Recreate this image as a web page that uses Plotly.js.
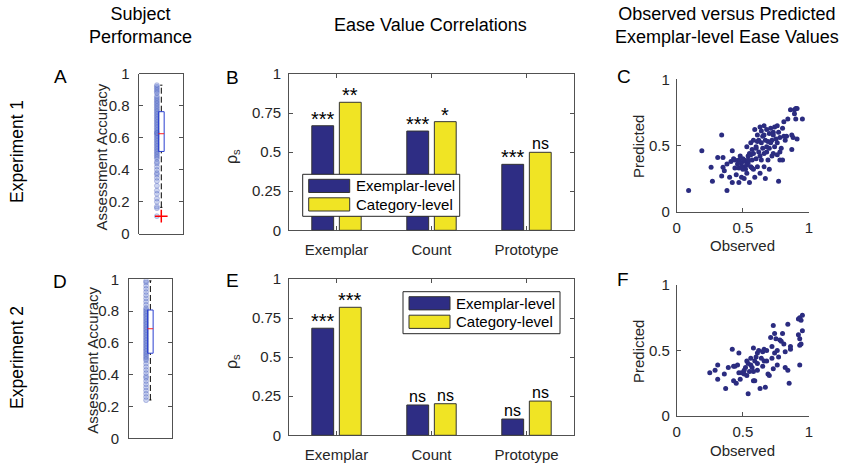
<!DOCTYPE html>
<html><head><meta charset="utf-8">
<script src="https://cdn.plot.ly/plotly-3.0.1.min.js"></script>
<style>html,body{margin:0;padding:0;background:#fff}#chart{width:844px;height:465px}</style>
</head><body><div id="chart"></div>
<script>
// ---------------- DATA ----------------
const categories = ['Exemplar', 'Count', 'Prototype'];
const seriesNames = ['Exemplar-level', 'Category-level'];
const exp1Exemplar = [0.669, 0.635, 0.422];
const exp1Category = [0.819, 0.695, 0.499];
const exp1ExemplarSig = ['***', '***', '***'];
const exp1CategorySig = ['**', '*', 'ns'];
const exp2Exemplar = [0.685, 0.194, 0.104];
const exp2Category = [0.819, 0.202, 0.219];
const exp2ExemplarSig = ['***', 'ns', 'ns'];
const exp2CategorySig = ['***', 'ns', 'ns'];
const barTicks = [0, 0.25, 0.5, 0.75, 1];
const barTickLabels = ['0', '0.25', '0.5', '0.75', '1'];

// subject assessment accuracy (boxplots)
const accuracyExp1 = [0.11, 0.16, 0.17, 0.2, 0.22, 0.25, 0.27, 0.3, 0.33, 0.35, 0.37, 0.38, 0.4, 0.42, 0.44, 0.45,
  0.47, 0.48, 0.49, 0.5, 0.51, 0.52, 0.53, 0.54, 0.55, 0.56, 0.57, 0.58, 0.59, 0.6, 0.61, 0.62, 0.63, 0.63, 0.64,
  0.65, 0.66, 0.67, 0.68, 0.69, 0.7, 0.71, 0.72, 0.73, 0.74, 0.75, 0.76, 0.77, 0.78, 0.79, 0.8, 0.81, 0.82, 0.83,
  0.84, 0.85, 0.86, 0.88, 0.89, 0.9, 0.91, 0.92, 0.93];
const boxStatsExp1 = [0.165, 0.515, 0.626, 0.764, 0.93]; // lower whisker, Q1, median, Q3, upper whisker
const outliersExp1 = [0.11];
const accuracyExp2 = [0.24, 0.26, 0.28, 0.3, 0.32, 0.34, 0.36, 0.38, 0.39, 0.41, 0.43, 0.45, 0.47, 0.49, 0.5, 0.51,
  0.52, 0.53, 0.54, 0.55, 0.56, 0.57, 0.58, 0.59, 0.6, 0.61, 0.62, 0.63, 0.64, 0.65, 0.66, 0.67, 0.68, 0.69, 0.7,
  0.71, 0.72, 0.73, 0.74, 0.75, 0.76, 0.77, 0.78, 0.79, 0.8, 0.81, 0.82, 0.84, 0.86, 0.88, 0.9, 0.92, 0.94, 0.96,
  0.98, 0.99];
const boxStatsExp2 = [0.241, 0.535, 0.689, 0.807, 0.99];
const outliersExp2 = [];
const accuracyTicks = [0, 0.2, 0.4, 0.6, 0.8, 1];

// observed vs predicted exemplar-level ease values
const observedExp1 = [0.09, 0.19, 0.26, 0.27, 0.31, 0.34, 0.34, 0.35, 0.35, 0.36, 0.38, 0.38, 0.40, 0.41, 0.42, 0.42,
  0.43, 0.44, 0.45, 0.47, 0.47, 0.47, 0.48, 0.49, 0.49, 0.50, 0.51, 0.51, 0.52, 0.52, 0.53, 0.54, 0.54, 0.55, 0.55,
  0.56, 0.56, 0.57, 0.57, 0.58, 0.58, 0.59, 0.59, 0.60, 0.60, 0.61, 0.61, 0.62, 0.62, 0.63, 0.63, 0.64, 0.64, 0.65,
  0.65, 0.66, 0.66, 0.67, 0.67, 0.68, 0.68, 0.69, 0.69, 0.70, 0.70, 0.71, 0.72, 0.73, 0.73, 0.74, 0.74, 0.75, 0.76,
  0.76, 0.77, 0.78, 0.78, 0.79, 0.80, 0.81, 0.81, 0.82, 0.83, 0.84, 0.86, 0.87, 0.87, 0.88, 0.89, 0.89, 0.90, 0.91,
  0.91, 0.95, 0.90, 0.49, 0.50, 0.51, 0.53, 0.53, 0.54, 0.56, 0.57, 0.44, 0.46, 0.64, 0.63, 0.70, 0.72, 0.76, 0.78,
  0.80, 0.77, 0.60, 0.61, 0.58, 0.66, 0.68, 0.66, 0.71, 0.73];
const predictedExp1 = [0.16, 0.46, 0.335, 0.23, 0.41, 0.58, 0.27, 0.41, 0.335, 0.31, 0.16, 0.36, 0.26, 0.38, 0.46, 0.22,
  0.40, 0.33, 0.28, 0.22, 0.39, 0.33, 0.42, 0.26, 0.37, 0.40, 0.34, 0.25, 0.38, 0.32, 0.49, 0.42, 0.37, 0.22, 0.44,
  0.34, 0.52, 0.39, 0.47, 0.54, 0.32, 0.26, 0.62, 0.40, 0.49, 0.58, 0.34, 0.45, 0.54, 0.64, 0.42, 0.52, 0.61, 0.48,
  0.57, 0.34, 0.65, 0.25, 0.54, 0.45, 0.62, 0.39, 0.53, 0.48, 0.59, 0.63, 0.54, 0.44, 0.60, 0.49, 0.64, 0.55, 0.52,
  0.65, 0.23, 0.39, 0.56, 0.48, 0.39, 0.57, 0.68, 0.54, 0.57, 0.70, 0.77, 0.47, 0.58, 0.56, 0.77, 0.74, 0.78, 0.78,
  0.55, 0.70, 0.70, 0.34, 0.32, 0.39, 0.35, 0.29, 0.39, 0.43, 0.33, 0.39, 0.36, 0.39, 0.29, 0.32, 0.42, 0.43, 0.45,
  0.63, 0.60, 0.48, 0.53, 0.44, 0.58, 0.49, 0.44, 0.52, 0.58];
const observedExp2 = [0.25, 0.29, 0.31, 0.31, 0.36, 0.37, 0.39, 0.42, 0.43, 0.43, 0.44, 0.45, 0.46, 0.47, 0.47, 0.48,
  0.49, 0.51, 0.51, 0.52, 0.53, 0.53, 0.54, 0.54, 0.55, 0.56, 0.56, 0.58, 0.58, 0.58, 0.59, 0.59, 0.60, 0.61, 0.61,
  0.62, 0.63, 0.64, 0.65, 0.66, 0.66, 0.67, 0.68, 0.68, 0.69, 0.70, 0.71, 0.72, 0.72, 0.73, 0.73, 0.74, 0.74, 0.75,
  0.76, 0.76, 0.77, 0.78, 0.79, 0.80, 0.81, 0.82, 0.82, 0.84, 0.84, 0.85, 0.86, 0.86, 0.92, 0.92, 0.93, 0.93, 0.93,
  0.93, 0.94, 0.95, 0.95, 0.94, 0.65, 0.61, 0.57];
const predictedExp2 = [0.33, 0.35, 0.39, 0.28, 0.32, 0.21, 0.37, 0.51, 0.38, 0.27, 0.38, 0.25, 0.39, 0.48, 0.33, 0.28,
  0.33, 0.35, 0.32, 0.37, 0.31, 0.42, 0.17, 0.40, 0.34, 0.44, 0.39, 0.34, 0.52, 0.27, 0.42, 0.27, 0.45, 0.48, 0.40,
  0.50, 0.21, 0.44, 0.49, 0.51, 0.42, 0.22, 0.50, 0.42, 0.32, 0.31, 0.60, 0.53, 0.44, 0.69, 0.36, 0.63, 0.48, 0.59,
  0.39, 0.50, 0.45, 0.58, 0.57, 0.63, 0.55, 0.37, 0.49, 0.70, 0.35, 0.25, 0.51, 0.53, 0.62, 0.74, 0.75, 0.59, 0.54,
  0.39, 0.73, 0.77, 0.65, 0.55, 0.38, 0.35, 0.37];
const scatterTicks = [0, 0.5, 1];
const scatterTickLabels = ['0', '0.5', '1'];

// ---------------- STYLE ----------------
const W = 844, H = 465;
const FONT = 'Liberation Sans, Arial, Helvetica, sans-serif';
const AX = '#262626';
const BLUE = '#2e2d84';
const YELLOW = '#f0e424';
const DOT = '#2b2c80';
const px = v => v / W;
const py = v => 1 - v / H;

const traces = [];
const annotations = [];
const shapes = [];

// ---- box panels ----
function boxPanel(ax, acc, stats, outliers) {
  const xa = 'x' + ax, ya = 'y' + ax;
  const [lo, q1, med, q3, hi] = stats;
  const bl = 0.935, br = 1.065;
  traces.push({type: 'scatter', mode: 'markers', xaxis: xa, yaxis: ya, hoverinfo: 'skip', showlegend: false,
    x: acc.map(() => 0.9), y: acc,
    marker: {size: 5, color: 'rgba(90,115,205,0.30)', line: {width: 0.6, color: 'rgba(60,80,180,0.45)'}}});
  traces.push({type: 'scatter', mode: 'lines', xaxis: xa, yaxis: ya, hoverinfo: 'skip', showlegend: false,
    x: [1, 1, null, 1, 1], y: [q3, hi, null, lo, q1], line: {color: '#000', width: 1, dash: '6px,3px'}});
  traces.push({type: 'scatter', mode: 'lines', xaxis: xa, yaxis: ya, hoverinfo: 'skip', showlegend: false,
    x: [0.975, 1.025, null, 0.975, 1.025], y: [hi, hi, null, lo, lo], line: {color: '#000', width: 1}});
  traces.push({type: 'scatter', mode: 'lines', xaxis: xa, yaxis: ya, hoverinfo: 'skip', showlegend: false,
    x: [bl, br, br, bl, bl], y: [q1, q1, q3, q3, q1], line: {color: '#2a3fd0', width: 1}});
  traces.push({type: 'scatter', mode: 'lines', xaxis: xa, yaxis: ya, hoverinfo: 'skip', showlegend: false,
    x: [bl, br], y: [med, med], line: {color: '#ff2020', width: 1}});
  if (outliers.length) {
    traces.push({type: 'scatter', mode: 'markers', xaxis: xa, yaxis: ya, hoverinfo: 'skip', showlegend: false,
      x: outliers.map(() => 1), y: outliers,
      marker: {symbol: 'cross-thin', size: 9, line: {color: '#ff0000', width: 1.5}}});
  }
}
boxPanel('', accuracyExp1, boxStatsExp1, outliersExp1);
boxPanel('4', accuracyExp2, boxStatsExp2, outliersExp2);

// ---- bar panels ----
const catPos = categories.map((c, i) => i + 1);
const BW = 0.23, OFF1 = -0.26, OFF2 = 0.03;
function barPanel(ax, ex, ca, exSig, caSig) {
  const xa = 'x' + ax, ya = 'y' + ax;
  traces.push({type: 'bar', name: seriesNames[0], xaxis: xa, yaxis: ya, x: catPos, y: ex, width: BW, offset: OFF1,
    marker: {color: BLUE, line: {color: '#333', width: 1}}, showlegend: false, hoverinfo: 'y'});
  traces.push({type: 'bar', name: seriesNames[1], xaxis: xa, yaxis: ya, x: catPos, y: ca, width: BW, offset: OFF2,
    marker: {color: YELLOW, line: {color: '#333', width: 1}}, showlegend: false, hoverinfo: 'y'});
  const sig = (vals, labels, off) => vals.forEach((v, i) => {
    const star = labels[i].indexOf('*') >= 0;
    annotations.push({
      xref: xa, yref: ya, x: catPos[i] + off + BW / 2, y: v, text: labels[i], showarrow: false,
      yanchor: 'bottom', xanchor: 'center', yshift: star ? -6 : -2,
      font: {family: FONT, size: star ? 20 : 16, color: '#000'}});
  });
  sig(ex, exSig, OFF1);
  sig(ca, caSig, OFF2);
}
barPanel('2', exp1Exemplar, exp1Category, exp1ExemplarSig, exp1CategorySig);
barPanel('5', exp2Exemplar, exp2Category, exp2ExemplarSig, exp2CategorySig);

// ---- scatter panels ----
traces.push({type: 'scatter', mode: 'markers', xaxis: 'x3', yaxis: 'y3', x: observedExp1, y: predictedExp1,
  marker: {size: 5, color: DOT}, showlegend: false});
traces.push({type: 'scatter', mode: 'markers', xaxis: 'x6', yaxis: 'y6', x: observedExp2, y: predictedExp2,
  marker: {size: 5, color: DOT}, showlegend: false});

// ---- legends (drawn boxes) ----
function legendBox(left, top) {
  const bw = 157, bh = 42;
  shapes.push({type: 'rect', xref: 'paper', yref: 'paper', x0: px(left), x1: px(left + bw), y0: py(top + bh), y1: py(top),
    line: {color: '#262626', width: 1}, fillcolor: '#fff', layer: 'above'});
  [BLUE, YELLOW].forEach((col, k) => {
    const t = top + 5 + k * 18.5;
    shapes.push({type: 'rect', xref: 'paper', yref: 'paper', x0: px(left + 6), x1: px(left + 47), y0: py(t + 13.2), y1: py(t),
      line: {color: '#333', width: 1}, fillcolor: col, layer: 'above'});
    annotations.push({xref: 'paper', yref: 'paper', x: px(left + 51), y: py(t + 6.6), xanchor: 'left', yanchor: 'middle',
      text: seriesNames[k], showarrow: false, font: {family: FONT, size: 15, color: '#000'}});
  });
}
legendBox(302.7, 174.3);
legendBox(403, 291.7);

// ---- text labels ----
function txt(x, y, text, size, opts = {}) {
  annotations.push(Object.assign({xref: 'paper', yref: 'paper', x: px(x), y: py(y), text, showarrow: false,
    xanchor: 'center', yanchor: 'middle', font: {family: FONT, size, color: opts.color || '#000'}}, opts.extra || {}));
}
txt(140, 26, 'Subject<br>Performance', 18);
txt(430, 25, 'Ease Value Correlations', 18);
txt(727, 26, 'Observed versus Predicted<br>Exemplar-level Ease Values', 18);
txt(17, 152, 'Experiment 1', 17.5, {extra: {textangle: -90}});
txt(17, 358, 'Experiment 2', 17.5, {extra: {textangle: -90}});
txt(60, 77, 'A', 19); txt(232, 78, 'B', 19); txt(624, 77, 'C', 19);
txt(60, 281, 'D', 19); txt(232, 280, 'E', 19); txt(623, 279, 'F', 19);
txt(101.7, 156.7, 'Assessment Accuracy', 15, {color: AX, extra: {textangle: -90}});
txt(91.7, 360, 'Assessment Accuracy', 15, {color: AX, extra: {textangle: -90}});
txt(232, 157, 'ρ<sub>s</sub>', 16, {color: AX, extra: {textangle: -90}});
txt(232, 362, 'ρ<sub>s</sub>', 16, {color: AX, extra: {textangle: -90}});
txt(638, 147, 'Predicted', 15, {color: AX, extra: {textangle: -90}});
txt(638, 352, 'Predicted', 15, {color: AX, extra: {textangle: -90}});
txt(742, 245, 'Observed', 15, {color: AX});
txt(742, 450, 'Observed', 15, {color: AX});

// ---------------- AXES ----------------
const tickFont = {family: FONT, size: 15, color: AX};
const base = {showgrid: false, zeroline: false, showline: true, linecolor: AX, linewidth: 0.8,
  ticks: 'inside', ticklen: 4, tickwidth: 0.8, tickcolor: AX, tickfont: tickFont, fixedrange: true};
const boxed = Object.assign({}, base, {mirror: 'ticks'});
const dom = (a, b) => [a / W, b / W];
const domY = (top, bot) => [1 - bot / H, 1 - top / H];

const layout = {
  width: W, height: H, margin: {l: 0, r: 0, t: 0, b: 0}, paper_bgcolor: '#fff', plot_bgcolor: '#fff',
  showlegend: false, barmode: 'group', font: {family: FONT},
  // A
  xaxis: Object.assign({}, boxed, {domain: dom(139.3, 183.3), anchor: 'y', range: [0.5, 1.5], ticks: '', showticklabels: false}),
  yaxis: Object.assign({}, boxed, {domain: domY(74, 233.7), anchor: 'x', range: [0, 1], tickvals: accuracyTicks, ticklabelstandoff: 6}),
  // B
  xaxis2: Object.assign({}, boxed, {domain: dom(289, 574), anchor: 'y2', range: [0.5, 3.5], tickvals: catPos, ticktext: categories, ticklabelstandoff: 6}),
  yaxis2: Object.assign({}, boxed, {domain: domY(74, 230.3), anchor: 'x2', range: [0, 1], tickvals: barTicks, ticktext: barTickLabels, ticklabelstandoff: 4}),
  // C
  xaxis3: Object.assign({}, base, {domain: dom(676.7, 809), anchor: 'y3', range: [0, 1], tickvals: scatterTicks, ticktext: scatterTickLabels, ticklabelstandoff: 2}),
  yaxis3: Object.assign({}, base, {domain: domY(79.3, 211.7), anchor: 'x3', range: [0, 1], tickvals: scatterTicks, ticktext: scatterTickLabels, ticklabelstandoff: 3}),
  // D
  xaxis4: Object.assign({}, boxed, {domain: dom(129, 171.7), anchor: 'y4', range: [0.5, 1.5], ticks: '', showticklabels: false}),
  yaxis4: Object.assign({}, boxed, {domain: domY(279.3, 438.3), anchor: 'x4', range: [0, 1], tickvals: accuracyTicks, ticklabelstandoff: 6}),
  // E
  xaxis5: Object.assign({}, boxed, {domain: dom(289, 574), anchor: 'y5', range: [0.5, 3.5], tickvals: catPos, ticktext: categories, ticklabelstandoff: 6}),
  yaxis5: Object.assign({}, boxed, {domain: domY(279, 435.3), anchor: 'x5', range: [0, 1], tickvals: barTicks, ticktext: barTickLabels, ticklabelstandoff: 4}),
  // F
  xaxis6: Object.assign({}, base, {domain: dom(676.7, 809), anchor: 'y6', range: [0, 1], tickvals: scatterTicks, ticktext: scatterTickLabels, ticklabelstandoff: 2}),
  yaxis6: Object.assign({}, base, {domain: domY(285, 416), anchor: 'x6', range: [0, 1], tickvals: scatterTicks, ticktext: scatterTickLabels, ticklabelstandoff: 3}),
  annotations, shapes
};

Plotly.newPlot('chart', traces, layout, {staticPlot: true, displayModeBar: false});
</script>
</body></html>
